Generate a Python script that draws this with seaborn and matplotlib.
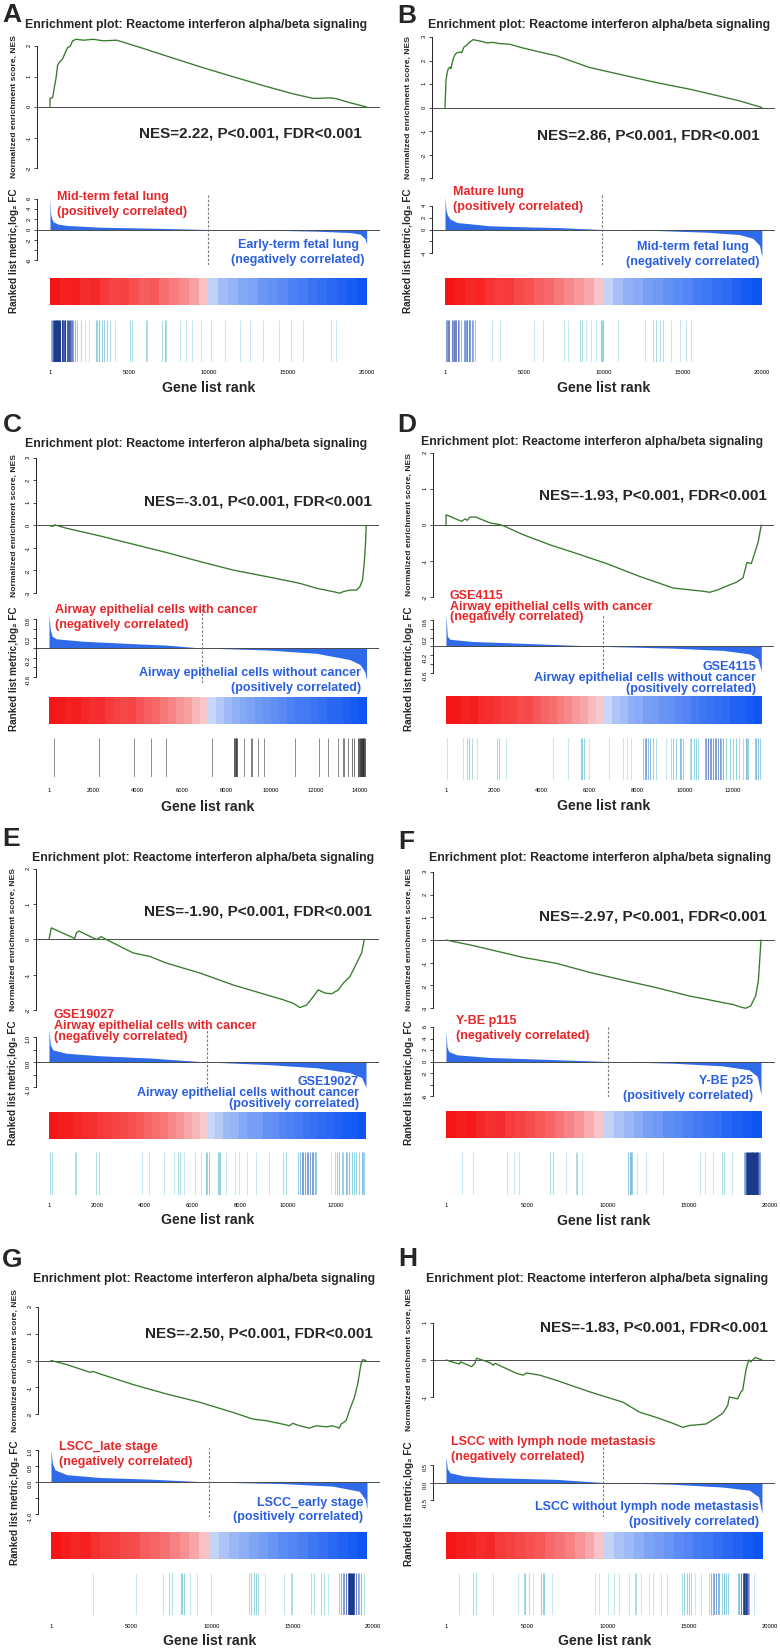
import numpy as np
import pandas as pd
import seaborn as sns
import matplotlib.pyplot as plt
from matplotlib.colors import LinearSegmentedColormap

sns.set_theme(style='white')
plt.rcParams['font.family'] = ['Liberation Sans', 'DejaVu Sans']

W, H = 780, 1648
TITLE = 'Enrichment plot: Reactome interferon alpha/beta signaling'
PANELS = list('ABCDEFGH')

# ---------------- data ----------------
nes_text = ['NES=2.22, P<0.001, FDR<0.001', 'NES=2.86, P<0.001, FDR<0.001',
            'NES=-3.01, P<0.001, FDR<0.001', 'NES=-1.93, P<0.001, FDR<0.001',
            'NES=-1.90, P<0.001, FDR<0.001', 'NES=-2.97, P<0.001, FDR<0.001',
            'NES=-2.50, P<0.001, FDR<0.001', 'NES=-1.83, P<0.001, FDR<0.001']

red_labels = [['Mid-term fetal lung', '(positively correlated)'],
              ['Mature lung', '(positively correlated)'],
              ['Airway epithelial cells with cancer', '(negatively correlated)'],
              ['GSE4115', 'Airway epithelial cells with cancer', '(negatively correlated)'],
              ['GSE19027', 'Airway epithelial cells with cancer', '(negatively correlated)'],
              ['Y-BE p115', '(negatively correlated)'],
              ['LSCC_late stage', '(negatively correlated)'],
              ['LSCC with lymph node metastasis', '(negatively correlated)']]

blue_labels = [['Early-term fetal lung', '(negatively correlated)'],
               ['Mid-term fetal lung', '(negatively correlated)'],
               ['Airway epithelial cells without cancer', '(positively correlated)'],
               ['GSE4115', 'Airway epithelial cells without cancer', '(positively correlated)'],
               ['GSE19027', 'Airway epithelial cells without cancer', '(positively correlated)'],
               ['Y-BE p25', '(positively correlated)'],
               ['LSCC_early stage', '(positively correlated)'],
               ['LSCC without lymph node metastasis', '(positively correlated)']]

zero_cross = [9970, 9900, 6890, 6570, 6600, 10000, 9810, 9700]

# running enrichment score
es_rank_A = [1, 1, 168, 273, 379, 484, 631, 778, 946, 1115, 1262, 1430, 1640, 2103, 2734, 3365, 4206,
             4837, 5888, 7360, 9463, 11566, 13669, 15352, 16613, 17665, 18085, 18927, 19979]
es_A = [0, 0.28, 0.31, 0.64, 0.94, 1.38, 1.49, 1.56, 1.76, 1.95, 1.98, 2.17, 2.22, 2.19, 2.22, 2.17, 2.19,
        2.09, 1.92, 1.67, 1.32, 0.99, 0.67, 0.43, 0.28, 0.30, 0.27, 0.14, 0]
es_rank_B = [1, 63, 147, 210, 315, 378, 441, 525, 630, 735, 945, 1050, 1197, 1365, 1575, 1785, 1953, 2205,
             2625, 3045, 3465, 4095, 4935, 5985, 7035, 9135, 11235, 13335, 15435, 17535, 18585, 19992]
es_B = [0, 1.15, 1.51, 1.65, 1.72, 1.65, 1.86, 2.08, 2.25, 2.32, 2.36, 2.33, 2.57, 2.65, 2.79, 2.89, 2.86, 2.83,
        2.75, 2.77, 2.72, 2.69, 2.53, 2.36, 2.20, 1.70, 1.38, 1.06, 0.78, 0.45, 0.28, 0]
es_rank_C = [1, 180, 255, 781, 2283, 3785, 5287, 6789, 8291, 9793, 11295, 12046, 12797, 13097, 13247,
             13548, 13848, 13998, 14118, 14193, 14253, 14283]
es_C = [0, -0.04, 0.03, -0.12, -0.46, -0.83, -1.2, -1.6, -1.98, -2.27, -2.57, -2.79, -2.94, -3.01, -2.94,
        -2.87, -2.87, -2.72, -2.42, -1.68, -0.79, 0]
es_rank_D = [1, 1, 97, 654, 793, 891, 1002, 1281, 1350, 1837, 2255, 2464, 3229, 4343, 5317, 6709, 8101, 8797,
             9493, 10189, 10746, 11024, 11373, 11720, 12138, 12417, 12584, 12765, 12904, 13043, 13182]
es_D = [0, 0.28, 0.26, 0.10, 0.17, 0.13, 0.22, 0.22, 0.19, 0.06, 0.01, -0.04, -0.27, -0.55, -0.76, -1.07, -1.43,
        -1.59, -1.75, -1.80, -1.84, -1.87, -1.80, -1.70, -1.59, -1.47, -1.04, -1.07, -0.78, -0.50, 0]
es_rank_E = [1, 98, 1074, 1144, 1256, 1981, 2190, 2399, 3516, 4213, 4911, 6306, 7701, 9096, 9794, 10212,
             10491, 10770, 11049, 11258, 11537, 11816, 12095, 12304, 12583, 12862, 13072, 13183]
es_E = [0, 0.33, 0.03, 0.19, 0.24, 0, 0.08, 0.0, -0.38, -0.48, -0.67, -0.95, -1.29, -1.57, -1.71, -1.81,
        -1.93, -1.86, -1.62, -1.43, -1.52, -1.54, -1.43, -1.24, -1.05, -0.67, -0.38, 0]
es_rank_F = [1, 1701, 4775, 6824, 8873, 10922, 12971, 15020, 16045, 17069, 17684, 18298, 18503, 18810,
             19117, 19281, 19363, 19445]
es_F = [0, -0.25, -0.77, -1.03, -1.43, -1.77, -2.10, -2.47, -2.61, -2.76, -2.84, -2.98, -3.01, -2.91,
        -2.47, -1.80, -0.92, 0]
es_rank_G = [1, 971, 2417, 2624, 3037, 5103, 7169, 9235, 11301, 12541, 13367, 14400, 14813, 15020, 15434,
             16054, 16467, 17087, 17500, 17913, 18017, 18327, 18533, 18843, 19050, 19256, 19360, 19566]
es_G = [0, -0.15, -0.44, -0.41, -0.5, -0.9, -1.25, -1.56, -1.94, -2.19, -2.25, -2.38, -2.44, -2.35, -2.44,
        -2.53, -2.44, -2.48, -2.44, -2.53, -2.38, -2.25, -1.88, -1.38, -0.88, -0.13, 0.03, 0]
es_rank_H = [1, 821, 903, 1581, 1786, 1889, 2710, 2915, 3018, 4352, 4763, 4968, 5789, 6816, 8869, 10922,
             11949, 12975, 14002, 14618, 15028, 16055, 16568, 17082, 17390, 17492, 18005, 18211, 18313,
             18518, 18683, 18827, 19093, 19504]
es_H = [0, -0.11, -0.05, -0.18, -0.09, 0.05, -0.07, -0.14, -0.09, -0.36, -0.41, -0.35, -0.41, -0.55, -0.86,
        -1.14, -1.41, -1.55, -1.71, -1.82, -1.77, -1.73, -1.59, -1.44, -1.23, -1.0, -1.05, -0.86, -0.82,
        -0.27, 0, -0.05, 0.07, 0]

# ranked list metric
met_rank_A = [1, 42, 105, 210, 526, 1052, 3155, 5258, 7360, 9970, 13669, 16823, 18927, 19558, 19874, 19979]
met_A = [6.2, 3.1, 2.2, 1.5, 1.05, 0.8, 0.45, 0.33, 0.2, 0, -0.13, -0.33, -0.6, -0.9, -1.8, -2.9]
met_rank_B = [1, 63, 147, 315, 735, 2835, 4935, 7035, 9900, 13335, 16485, 18585, 19425, 19845, 19992]
met_B = [5.6, 3.3, 2.5, 1.8, 1.2, 0.63, 0.46, 0.34, 0, -0.17, -0.46, -0.86, -1.5, -2.7, -4.7]
met_rank_C = [1, 60, 150, 330, 1532, 3785, 5287, 6864, 9793, 12046, 13548, 13998, 14223, 14298]
met_C = [0.69, 0.37, 0.24, 0.19, 0.14, 0.09, 0.06, 0, -0.04, -0.11, -0.24, -0.34, -0.49, -0.66]
met_rank_D = [1, 56, 167, 1141, 3229, 6570, 9493, 11581, 12695, 13043, 13182]
met_D = [0.71, 0.23, 0.16, 0.11, 0.07, 0, -0.04, -0.09, -0.17, -0.28, -0.57]
met_rank_E = [1, 56, 167, 725, 2120, 4213, 6612, 9095, 11188, 12583, 13071, 13253]
met_E = [1.29, 0.68, 0.48, 0.35, 0.25, 0.16, 0, -0.10, -0.23, -0.43, -0.62, -1.01]
met_rank_F = [1, 61, 164, 676, 2725, 5799, 10000, 13995, 17069, 18707, 19219, 19445]
met_F = [5.4, 2.6, 1.74, 1.16, 0.70, 0.41, 0, -0.29, -0.76, -1.45, -2.6, -5.8]
met_rank_G = [1, 83, 248, 971, 3037, 6136, 9793, 14400, 17500, 19153, 19524, 19627]
met_G = [1.0, 0.59, 0.38, 0.23, 0.14, 0.09, 0, -0.05, -0.13, -0.29, -0.55, -0.86]
met_rank_H = [1, 82, 246, 1068, 2710, 6816, 9690, 14002, 17082, 18724, 19299, 19504]
met_H = [0.74, 0.4, 0.28, 0.19, 0.14, 0.09, 0, -0.05, -0.13, -0.22, -0.41, -0.89]

# gene set hits (rank positions)
hits_A = [42, 105, 210, 273, 315, 379, 421, 463, 526, 589, 631, 736, 799, 841, 904, 967, 1052, 1115, 1199,
          1262, 1325, 1388, 1472, 1577, 1725, 1956, 2208, 2482, 2902, 2986, 3112, 3260, 3407, 3617, 3785,
          4101, 5047, 5173, 6057, 6141, 7045, 7255, 7318, 8202, 8580, 8938, 9506, 10136, 11041, 11987,
          12618, 13459, 14469, 15205, 15983, 17728, 18043]
hits_B = [63, 105, 147, 210, 252, 441, 525, 567, 630, 693, 798, 882, 987, 1197, 1260, 1323, 1407, 1491,
          1575, 1680, 1785, 1890, 2940, 3465, 5607, 6195, 7497, 7770, 8547, 8673, 8925, 9240, 9555, 9870,
          9912, 9975, 10920, 12621, 13125, 13335, 13587, 13755, 14280, 14805, 15225, 15540]
hits_C = [210, 2253, 3830, 4611, 5287, 7360, 8336, 8366, 8411, 8441, 8486, 8787, 9117, 9162, 9433, 9688,
          11070, 12166, 12572, 13022, 13218, 13278, 13473, 13623, 13728, 13893, 13938, 13998, 14028, 14073,
          14118, 14148, 14178, 14223]
hits_D = [28, 696, 891, 974, 1072, 1308, 2144, 2213, 2492, 4482, 5109, 5665, 5707, 5763, 5972, 6807, 7405,
          7572, 7753, 8241, 8310, 8380, 8450, 8519, 8658, 8797, 9215, 9424, 9493, 9632, 9772, 9841, 9911,
          10189, 10259, 10356, 10440, 10537, 10816, 10858, 10886, 10955, 11024, 11094, 11164, 11233, 11303,
          11373, 11442, 11512, 11582, 11721, 11860, 11999, 12138, 12250, 12417, 12556, 12598, 12625, 12904,
          12974, 13043, 13113]
hits_E = [56, 126, 1074, 1144, 1981, 2093, 3906, 4185, 4813, 5217, 5399, 5468, 5636, 6124, 6375, 6557, 6626,
          6696, 7073, 7115, 7170, 7421, 7770, 7952, 8258, 8649, 9207, 9765, 9904, 10421, 10490, 10560, 10630,
          10700, 10769, 10839, 10909, 10979, 11048, 11118, 11160, 11788, 11955, 12025, 12137, 12234, 12304,
          12416, 12471, 12555, 12653, 12750, 12834, 12974, 13071, 13141, 13183]
hits_F = [984, 1660, 3791, 4221, 4528, 6413, 6618, 7397, 8012, 8094, 8421, 11229, 11331, 11434, 11495, 11782,
          12355, 13380, 15675, 16003, 16453, 17027, 17170, 17642, 18400, 18462, 18544, 18605, 18667, 18708,
          18749, 18810, 18872, 18913, 18974, 19015, 19076, 19117, 19179, 19220, 19281, 19322, 19384]
hits_G = [2583, 5268, 6962, 7334, 7541, 8099, 8161, 8264, 8615, 9070, 9958, 12272, 12437, 12582, 12706,
          12851, 13264, 14503, 14916, 14978, 16156, 16321, 16775, 16941, 17189, 17912, 18016, 18119, 18222,
          18326, 18429, 18491, 18532, 18594, 18636, 18698, 18739, 18801, 18842, 18946, 19049, 19152, 19256,
          19421]
hits_H = [821, 1642, 1848, 2915, 4455, 4804, 4907, 5133, 5379, 5892, 5995, 6056, 6570, 9177, 9444, 9998,
          10347, 10676, 11292, 11641, 11702, 12010, 12523, 12769, 13283, 13632, 14576, 14720, 14864, 14987,
          15131, 15398, 15747, 16219, 16363, 16465, 16568, 16671, 16773, 16876, 17040, 17184, 17287, 17389,
          18005, 18108, 18211, 18313, 18375, 18416, 18478, 18518, 18580, 18621, 18724, 19032]

# colour bar stripes (sign / strength of the ranked metric)
heat_A = [1.00, 0.94, 0.96, 0.88, 0.90, 0.82, 0.76, 0.78, 0.70, 0.64, 0.66, 0.56, 0.48, 0.40, 0.30, 0.14,
          -0.14, -0.28, -0.34, -0.42, -0.46, -0.54, -0.58, -0.64, -0.68, -0.72, -0.78, -0.82, -0.86, -0.90,
          -0.94, -1.00]
heat_B = [1.00, 0.96, 0.90, 0.92, 0.84, 0.80, 0.82, 0.74, 0.70, 0.62, 0.58, 0.50, 0.42, 0.34, 0.26, 0.12,
          -0.12, -0.26, -0.36, -0.40, -0.48, -0.52, -0.58, -0.62, -0.66, -0.72, -0.76, -0.80, -0.84, -0.90,
          -0.96, -1.00]
heat_C = [1.00, 0.97, 0.94, 0.95, 0.90, 0.86, 0.88, 0.82, 0.78, 0.74, 0.76, 0.68, 0.62, 0.58, 0.50, 0.44,
          0.36, 0.30, 0.18, 0.10, -0.10, -0.20, -0.30, -0.36, -0.42, -0.46, -0.52, -0.56, -0.60, -0.64,
          -0.68, -0.72, -0.74, -0.78, -0.82, -0.86, -0.88, -0.92, -0.96, -1.00]
heat_D = [1.00, 0.98, 0.93, 0.95, 0.89, 0.87, 0.84, 0.80, 0.78, 0.72, 0.74, 0.66, 0.60, 0.56, 0.48, 0.42,
          0.34, 0.28, 0.16, 0.10, -0.10, -0.22, -0.28, -0.38, -0.40, -0.48, -0.50, -0.56, -0.58, -0.64,
          -0.66, -0.72, -0.76, -0.78, -0.82, -0.84, -0.90, -0.92, -0.96, -1.00]
heat_E = [1.00, 0.96, 0.95, 0.91, 0.88, 0.86, 0.82, 0.80, 0.76, 0.74, 0.70, 0.66, 0.60, 0.54, 0.50, 0.42,
          0.36, 0.26, 0.18, 0.08, -0.10, -0.18, -0.30, -0.34, -0.42, -0.48, -0.50, -0.58, -0.60, -0.66,
          -0.68, -0.72, -0.78, -0.80, -0.84, -0.86, -0.90, -0.94, -0.96, -1.00]
heat_F = [1.00, 0.95, 0.97, 0.90, 0.86, 0.88, 0.80, 0.76, 0.72, 0.66, 0.60, 0.52, 0.44, 0.36, 0.24, 0.12,
          -0.14, -0.24, -0.32, -0.40, -0.48, -0.52, -0.60, -0.64, -0.68, -0.74, -0.78, -0.82, -0.88, -0.92,
          -0.96, -1.00]
heat_G = [1.00, 0.96, 0.92, 0.94, 0.86, 0.82, 0.80, 0.74, 0.72, 0.64, 0.60, 0.54, 0.46, 0.38, 0.28, 0.14,
          -0.12, -0.22, -0.32, -0.38, -0.44, -0.50, -0.56, -0.62, -0.66, -0.70, -0.76, -0.80, -0.86, -0.90,
          -0.94, -1.00]
heat_H = [1.00, 0.95, 0.93, 0.88, 0.90, 0.82, 0.78, 0.74, 0.70, 0.66, 0.58, 0.52, 0.46, 0.36, 0.26, 0.12,
          -0.12, -0.24, -0.30, -0.38, -0.46, -0.50, -0.56, -0.62, -0.66, -0.72, -0.76, -0.82, -0.86, -0.90,
          -0.96, -1.00]

xticks_20k = [1, 5000, 10000, 15000, 20000]
xticks_14k = [1, 2000, 4000, 6000, 8000, 10000, 12000, 14000]
xticks_12k = [1, 2000, 4000, 6000, 8000, 10000, 12000]

es_ticks = {'A': [-2, -1, 0, 1, 2], 'B': [-3, -2, -1, 0, 1, 2, 3], 'C': [-3, -2, -1, 0, 1, 2, 3],
            'D': [-2, -1, 0, 1, 2], 'E': [-2, -1, 0, 1, 2], 'F': [-3, -2, -1, 0, 1, 2, 3],
            'G': [-2, -1, 0, 1, 2], 'H': [-1, 0, 1]}
met_ticks = {'A': ([6, 4, 2, 0, -2, -4, -6], ['6', '4', '2', '0', '-2', '', '-6']),
             'B': ([4, 2, 0, -2, -4], ['4', '2', '0', '', '-4']),
             'C': ([0.6, 0.4, 0.2, 0, -0.2, -0.4, -0.6], ['0.6', '', '0.2', '', '-0.2', '', '-0.6']),
             'D': ([0.6, 0.4, 0.2, 0, -0.2, -0.4, -0.6], ['0.6', '', '0.2', '', '-0.2', '', '-0.6']),
             'E': ([1.0, 0.5, 0.0, -0.5, -1.0], ['1.0', '', '0.0', '', '-1.0']),
             'F': ([6, 4, 2, 0, -2, -4, -6], ['6', '4', '2', '0', '-2', '', '-6']),
             'G': ([1.0, 0.5, 0.0, -0.5, -1.0], ['1.0', '0.5', '0.0', '', '-1.0']),
             'H': ([0.5, 0.0, -0.5], ['0.5', '0.0', '-0.5'])}

# ---------------- layout (pixel positions in the 780x1648 canvas) ----------------
layout = {
    'A': dict(x1=50, ppg=0.01585, n=20000, es=(2, 46, -2, 168), es_box=(31, 186), met=(6, 199, -6, 260),
              met_box=(195, 265), heat=(278, 305), hits=(320, 362), tick_y=372, xlab_y=388, title=(196, 25),
              letter=(2, 3), nes=(362, 133), red=(57, 197, 15), blue=(298, 245, 15, 'center'), ylab_x=14,
              xt=xticks_20k),
    'B': dict(x1=445, ppg=0.01585, n=20000, es=(3, 37, -3, 178), es_box=(31, 186), met=(4, 206, -4, 253),
              met_box=(195, 265), heat=(278, 305), hits=(320, 362), tick_y=372, xlab_y=388, title=(599, 25),
              letter=(397, 4), nes=(760, 135), red=(453, 192, 15), blue=(693, 247, 15, 'center'), ylab_x=408,
              xt=xticks_20k),
    'C': dict(x1=49, ppg=0.02221, n=14300, es=(3, 458, -3, 593), es_box=(452, 605), met=(0.6, 619, -0.6, 677),
              met_box=(608, 683), heat=(697, 724), hits=(738, 777), tick_y=790, xlab_y=807, title=(196, 444),
              letter=(3, 413), nes=(372, 502), red=(55, 610, 15), blue=(361, 673, 15, 'right'), ylab_x=14,
              xt=xticks_14k),
    'D': dict(x1=446, ppg=0.02392, n=13200, es=(2, 453, -2, 597), es_box=(450, 605), met=(0.6, 620, -0.6, 675),
              met_box=(614, 673), heat=(696, 724), hits=(738, 780), tick_y=790, xlab_y=806, title=(592, 442),
              letter=(397, 413), nes=(767, 496), red=(450, 596, 10.7), blue=(756, 667, 11, 'right'), ylab_x=409,
              xt=xticks_12k),
    'E': dict(x1=49, ppg=0.02392, n=13250, es=(2, 869, -2, 1010), es_box=(866, 1020), met=(1.0, 1037, -1.0, 1087),
              met_box=(1027, 1088), heat=(1112, 1139), hits=(1152, 1195), tick_y=1205, xlab_y=1220,
              title=(203, 858), letter=(2, 827), nes=(372, 912), red=(54, 1015, 11), blue=(359, 1082, 11, 'right'),
              ylab_x=13, xt=xticks_12k),
    'F': dict(x1=446, ppg=0.0162, n=19500, es=(3, 872, -3, 1008), es_box=(866, 1020), met=(6, 1027, -6, 1096),
              met_box=(1027, 1097), heat=(1111, 1138), hits=(1152, 1195), tick_y=1205, xlab_y=1221,
              title=(600, 858), letter=(398, 830), nes=(767, 917), red=(456, 1021, 15.5),
              blue=(753, 1081, 15, 'right'), ylab_x=409, xt=xticks_20k),
    'G': dict(x1=51, ppg=0.0161, n=19650, es=(2, 1307, -2, 1414), es_box=(1290, 1440), met=(1.0, 1450, -1.0, 1514),
              met_box=(1448, 1517), heat=(1532, 1559), hits=(1573, 1615), tick_y=1626, xlab_y=1641,
              title=(204, 1279), letter=(2, 1248), nes=(373, 1333), red=(59, 1447, 14.5),
              blue=(363, 1503, 14, 'right'), ylab_x=15, xt=xticks_20k),
    'H': dict(x1=446, ppg=0.0162, n=19550, es=(1, 1323, -1, 1397), es_box=(1290, 1440), met=(0.5, 1465, -0.5, 1500),
              met_box=(1445, 1517), heat=(1532, 1559), hits=(1573, 1615), tick_y=1626, xlab_y=1641,
              title=(597, 1279), letter=(398, 1247), nes=(768, 1328), red=(451, 1442, 15),
              blue=(759, 1507, 15, 'right'), ylab_x=409, xt=xticks_20k),
}

es_data = {'A': (es_rank_A, es_A), 'B': (es_rank_B, es_B), 'C': (es_rank_C, es_C), 'D': (es_rank_D, es_D),
           'E': (es_rank_E, es_E), 'F': (es_rank_F, es_F), 'G': (es_rank_G, es_G), 'H': (es_rank_H, es_H)}
met_data = {'A': (met_rank_A, met_A), 'B': (met_rank_B, met_B), 'C': (met_rank_C, met_C),
            'D': (met_rank_D, met_D), 'E': (met_rank_E, met_E), 'F': (met_rank_F, met_F),
            'G': (met_rank_G, met_G), 'H': (met_rank_H, met_H)}
hit_data = {'A': hits_A, 'B': hits_B, 'C': hits_C, 'D': hits_D, 'E': hits_E, 'F': hits_F, 'G': hits_G, 'H': hits_H}
heat_data = {'A': heat_A, 'B': heat_B, 'C': heat_C, 'D': heat_D, 'E': heat_E, 'F': heat_F, 'G': heat_G, 'H': heat_H}

GREEN = '#367a2b'
FILL = '#2f6be8'
RED = '#e8262a'
BLUE = '#2a5fe0'
HEAT_CMAP = LinearSegmentedColormap.from_list(
    'rankbar', [(0, '#0d55f2'), (0.499, '#dce4f7'), (0.501, '#f8dcdf'), (1, '#f51515')])
HIT_CMAP = LinearSegmentedColormap.from_list('hits', ['#c4e8ef', '#8ccfe0', '#7d8fd3', '#1b3a8a'])
HIT_CMAP_GREY = LinearSegmentedColormap.from_list('hitsg', ['#7a7a7a', '#1a1a1a'])

fig = plt.figure(figsize=(W / 100, H / 100), dpi=100)


def px_axes(left, top, width, height):
    return fig.add_axes([left / W, 1 - (top + height) / H, width / W, height / H])


def fig_text(x, y, s, **kw):
    fig.text(x / W, 1 - y / H, s, **kw)


def rank_axes(L, top, bottom):
    n, x1, ppg = L['n'], L['x1'], L['ppg']
    ax = px_axes(x1 - 0.04 * n * ppg, top, 1.08 * n * ppg, bottom - top)
    ax.patch.set_alpha(0)
    for s in ax.spines.values():
        s.set_visible(False)
    return ax


def ylim_from(scale, top, bottom):
    v1, p1, v2, p2 = scale
    upp = (v1 - v2) / (p2 - p1)
    return v2 - (bottom - p2) * upp, v1 + (p1 - top) * upp


def left_axis(ax, ticks, labels):
    ax.spines['left'].set_visible(True)
    ax.spines['left'].set_color('black')
    ax.spines['left'].set_linewidth(0.6)
    ax.spines['left'].set_bounds(min(ticks), max(ticks))
    ax.set_yticks(ticks)
    ax.set_yticklabels(labels)
    ax.set_xticks([])
    ax.tick_params(axis='y', left=True, length=2.5, width=0.5, labelsize=4.2, pad=1.5,
                   labelrotation=90, colors='black')
    ax.set_xlabel('')
    ax.set_ylabel('')


for i, p in enumerate(PANELS):
    L = layout[p]
    n = L['n']
    xlim = (1 - 0.04 * n, 1 + 1.04 * n)

    # enrichment score
    ax = rank_axes(L, *L['es_box'])
    r, v = es_data[p]
    sns.lineplot(x=np.array(r), y=np.array(v), ax=ax, color=GREEN, linewidth=0.95,
                 estimator=None, sort=False, legend=False)
    ax.axhline(0, color='#4a4a4a', lw=0.7, zorder=0)
    ax.set_xlim(*xlim)
    ax.set_ylim(*ylim_from(L['es'], *L['es_box']))
    t = es_ticks[p]
    left_axis(ax, t, [str(x) for x in t])

    # ranked list metric
    ax2 = rank_axes(L, *L['met_box'])
    r, v = met_data[p]
    ax2.fill_between(r, 0, v, color=FILL, lw=0)
    ax2.axhline(0, color='#4a4a4a', lw=0.7)
    ax2.axvline(zero_cross[i], color='#7a7a7a', lw=0.8, ls=(0, (2.2, 1.6)))
    ax2.set_xlim(*xlim)
    ax2.set_ylim(*ylim_from(L['met'], *L['met_box']))
    mt, ml = met_ticks[p]
    left_axis(ax2, mt, ml)

    # colour bar
    ht, hb = L['heat']
    hax = px_axes(L['x1'], ht, (n - 1) * L['ppg'], hb - ht)
    sns.heatmap(pd.DataFrame([heat_data[p]]), ax=hax, cmap=HEAT_CMAP, vmin=-1, vmax=1, cbar=False,
                xticklabels=False, yticklabels=False, linewidths=0)

    # hit lines
    hx = rank_axes(L, *L['hits'])
    h = np.array(hit_data[p])
    win = n * 0.0125
    counts = np.array([np.sum(np.abs(h - x) <= win) for x in h])
    frac = np.clip((counts - 1) / 7, 0, 1)
    if p == 'C':
        hx.vlines(h, 0, 1, colors=HIT_CMAP_GREY(frac), lw=0.6)
    else:
        hx.vlines(h, 0, 1, colors=HIT_CMAP(frac), lw=0.75)
    hx.set_xlim(*xlim)
    hx.set_ylim(0, 1)
    hx.set_yticks([])
    hx.set_xticks(L['xt'])
    hx.set_xticklabels([str(x) for x in L['xt']])
    pad = (L['tick_y'] - L['hits'][1] - 2) * 0.72
    hx.tick_params(axis='x', bottom=True, length=0, labelsize=4.2, pad=pad, colors='black')

    # texts
    cx = L['x1'] + (n - 1) * L['ppg'] / 2
    fig_text(cx, L['xlab_y'], 'Gene list rank', ha='center', va='center', fontsize=10.2, fontweight='bold')
    fig_text(*L['title'], TITLE, ha='center', va='center', fontsize=8.8, fontweight='bold')
    fig_text(*L['letter'], p, ha='left', va='top', fontsize=19, fontweight='bold')
    fig_text(*L['nes'], nes_text[i], ha='right', va='center', fontsize=11, fontweight='bold')

    es_mid = (L['es'][1] + L['es'][3]) / 2
    met_mid = (L['met'][1] + L['met'][3]) / 2 + 21
    fig_text(L['ylab_x'], es_mid, 'Normalized enrichment score, NES', rotation=90, ha='center',
             va='center', fontsize=6.1, fontweight='bold')
    fig_text(L['ylab_x'], met_mid, 'Ranked list metric,log\u2082 FC', rotation=90, ha='center',
             va='center', fontsize=7.2, fontweight='bold')

    rx, ry, rs = L['red']
    for k, line in enumerate(red_labels[i]):
        fig_text(rx, ry + k * rs, line, ha='left', va='center', fontsize=9, fontweight='bold', color=RED)
    bx, by, bs, ha = L['blue']
    for k, line in enumerate(blue_labels[i]):
        fig_text(bx, by + k * bs, line, ha=ha, va='center', fontsize=9, fontweight='bold', color=BLUE)

fig.savefig('out.png', dpi=100)
